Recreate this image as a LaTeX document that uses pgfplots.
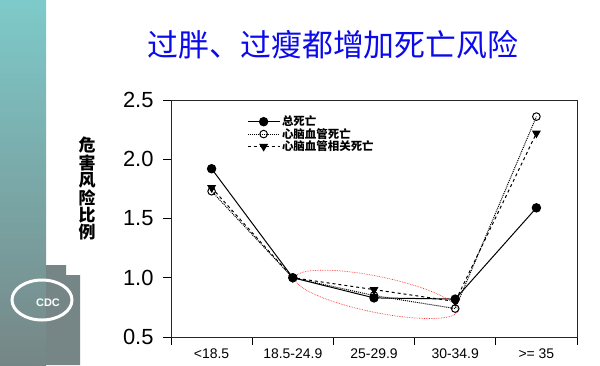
\documentclass[border=0pt]{standalone}
\usepackage{fontspec}
\usepackage{pgfplots}
\pgfplotsset{compat=1.18}
\setmainfont{Liberation Sans}
\newfontfamily\cjk{Noto Sans CJK SC}
\definecolor{stripTop}{RGB}{126,202,202}
\definecolor{stripBot}{RGB}{118,134,134}
\definecolor{titleblue}{RGB}{10,10,235}
\begin{document}
\begin{tikzpicture}[x=1bp,y=1bp]
\useasboundingbox (0,0) rectangle (600,365);
\fill[white] (0,0) rectangle (600,365);
\shade[top color=stripTop, bottom color=stripBot] (0,0) rectangle (46,365);
% logo backdrop
\fill[stripBot] (46,0) -- (46,100) -- (66,100) -- (66,90) -- (80,90) -- (80,0) -- cycle;
\draw[white, line width=3pt] (42,65) ellipse [x radius=30, y radius=20];
\node[white, font=\bfseries\fontsize{11}{11}\selectfont] at (48,62) {CDC};
% title
\node[titleblue, font=\cjk\fontsize{31}{31}\selectfont] at (333,320) {过胖、过瘦都增加死亡风险};
% y label
\node[font=\cjk\bfseries\fontsize{17}{17.5}\selectfont, align=center, anchor=north, inner sep=0pt] at (87,228) {危\\害\\风\\险\\比\\例};
\begin{axis}[
  scale only axis, width=406bp, height=237bp,
  at={(171bp,28bp)}, anchor=south west,
  xmin=-0.5, xmax=4.5, ymin=0.5, ymax=2.5,
  xtick={-0.5,0.5,...,4.5}, x tick label as interval,
  xticklabels={{<18.5},{18.5-24.9},{25-29.9},{30-34.9},{>= 35}},
  ytick={0.5,1.0,...,2.5},
  /pgf/number format/fixed, /pgf/number format/fixed zerofill, /pgf/number format/precision=1,
  /pgf/number format/assume math mode=true,
  y tick label style={font=\fontsize{22}{22}\selectfont, xshift=-6bp},
  x tick label style={font=\fontsize{14}{14}\selectfont},
  tick align=outside, major tick length=8bp,
  xtick pos=bottom, ytick pos=left,
  axis line style={black!85, line width=0.8pt},
  tick style={black, line width=0.8pt},
  legend style={at={(0.18,0.95)}, anchor=north west, draw=none, fill=none,
    font=\cjk\bfseries\fontsize{11.5}{12}\selectfont, row sep=-3bp},
  legend cell align=left,
  legend image code/.code={\draw[mark repeat=2,mark phase=2,#1] plot coordinates {(0cm,0cm) (0.56cm,0cm) (1.12cm,0cm)};},
]
\addplot[black, line width=1pt, mark=*, mark size=4.2bp] coordinates {(0,1.92)(1,1.0)(2,0.83)(3,0.82)(4,1.59)};
\addlegendentry{总死亡}
\addplot[black, densely dotted, line width=1pt, mark=o, mark options={solid, fill=white}, mark size=3.8bp] coordinates {(0,1.73)(1,1.0)(2,0.85)(3,0.74)(4,2.36)};
\addlegendentry{心脑血管死亡}
\addplot[black, dashed, line width=1pt, mark=triangle*, mark options={solid, rotate=180}, mark size=4.2bp] coordinates {(0,1.76)(1,1.0)(2,0.90)(3,0.80)(4,2.22)};
\addlegendentry{心脑血管相关死亡}
\draw[red!80, densely dotted, line width=0.7pt, rotate around={-11.5:(axis cs:2.03,0.86)}] (axis cs:2.03,0.86) ellipse [x radius=83bp, y radius=18bp];
\end{axis}
\end{tikzpicture}
\end{document}
